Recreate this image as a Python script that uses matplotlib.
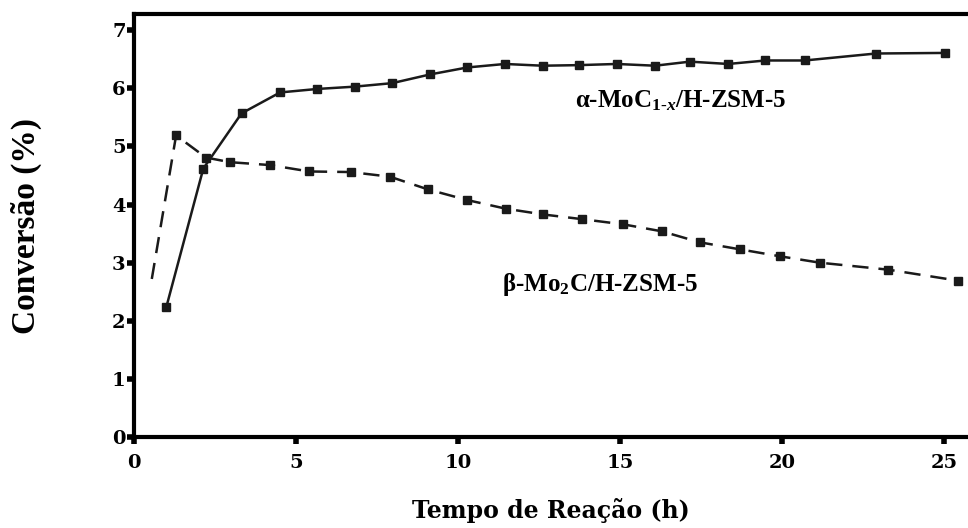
import matplotlib
matplotlib.use("Agg")
import matplotlib.pyplot as plt

plt.rcParams["mathtext.fontset"] = "custom"
plt.rcParams["mathtext.rm"] = "Liberation Serif:bold"
plt.rcParams["mathtext.bf"] = "Liberation Serif:bold"
plt.rcParams["mathtext.it"] = "Liberation Serif:italic:bold"

# Data
alpha_t = [1.0, 2.14, 3.32, 4.51, 5.66, 6.82, 7.97, 9.14, 10.29, 11.45, 12.61,
           13.73, 14.9, 16.08, 17.16, 18.34, 19.49, 20.7, 22.9, 25.03]
alpha_c = [2.24, 4.62, 5.57, 5.93, 5.99, 6.03, 6.09, 6.24, 6.36, 6.42, 6.39,
           6.40, 6.42, 6.39, 6.46, 6.42, 6.48, 6.48, 6.60, 6.61]

beta_t = [0.55, 1.30, 2.22, 2.96, 4.2, 5.41, 6.69, 7.9, 9.08, 10.27, 11.47, 12.63,
          13.82, 15.1, 16.29, 17.47, 18.7, 19.94, 21.17, 23.28, 25.44]
beta_c = [2.72, 5.19, 4.81, 4.73, 4.68, 4.57, 4.56, 4.48, 4.26, 4.08, 3.93, 3.83,
          3.75, 3.66, 3.54, 3.35, 3.23, 3.11, 3.00, 2.88, 2.69]

x_ticks = [0, 5, 10, 15, 20, 25]
y_ticks = [0, 1, 2, 3, 4, 5, 6, 7]

fig = plt.figure(figsize=(9.68, 5.28), dpi=100)
ax = fig.add_axes([0.1384, 0.1723, 0.8616, 0.8012])

ax.plot(alpha_t, alpha_c, color="#1a1a1a", lw=1.8, marker="s", ms=5.5,
        mfc="#1a1a1a", mec="#1a1a1a")
ax.plot(beta_t, beta_c, color="#1a1a1a", lw=1.8, ls=(0, (6.5, 4)), marker="s", ms=5.5,
        mfc="#1a1a1a", mec="#1a1a1a", markevery=list(range(1, len(beta_t))))

ax.set_xlim(0, 25.74)
ax.set_ylim(0, 7.28)
ax.set_xticks(x_ticks)
ax.set_yticks(y_ticks)

tick_font = dict(family="DejaVu Serif", weight="bold", size=14)
ax.set_xticklabels([str(v) for v in x_ticks], **tick_font)
ax.set_yticklabels([str(v) for v in y_ticks], **tick_font)
ax.tick_params(axis="both", direction="out", length=5, width=4, color="black")
ax.tick_params(axis="x", pad=7)
ax.tick_params(axis="y", pad=1)

for s in ["left", "bottom", "top"]:
    ax.spines[s].set_linewidth(3)
ax.spines["right"].set_visible(False)

ax.set_xlabel("Tempo de Reação (h)", family="DejaVu Serif", weight="bold",
              size=17, labelpad=19)
ax.set_ylabel("Conversão (%)", family="Liberation Serif", weight="bold",
              size=24, labelpad=50)

ax.text(13.6, 5.79, "α-MoC$_{\\mathit{1\\text{-}x}}$/H-ZSM-5", family="Liberation Serif",
        weight="bold", size=18, va="center", ha="left")
ax.text(11.35, 2.63, "β-Mo$_{2}$C/H-ZSM-5", family="Liberation Serif",
        weight="bold", size=18, va="center", ha="left")

fig.savefig("out.png", dpi=100)
